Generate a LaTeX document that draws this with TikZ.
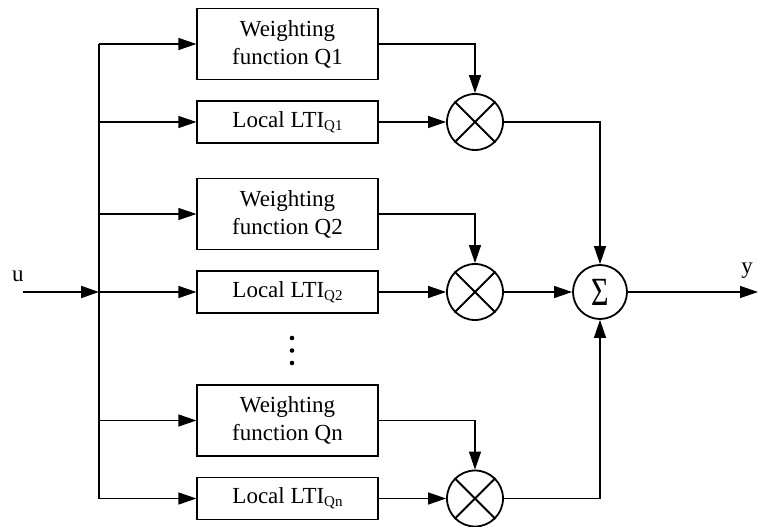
\documentclass[tikz,border=0pt]{standalone}
\usepackage{fontspec}
\setmainfont{Liberation Serif}
\usetikzlibrary{arrows.meta,positioning}
\begin{document}
\begin{tikzpicture}[x=1pt,y=-1pt,
  font=\fontsize{23}{28}\selectfont,
  block/.style={draw,line width=1.2pt,minimum width=181pt,inner sep=0pt,align=center},
  tall/.style={block,minimum height=71pt},
  flat/.style={block,minimum height=42pt},
  mult/.style={draw,circle,line width=1.8pt,minimum size=56pt,inner sep=0pt},
  sumnode/.style={draw,circle,line width=1.8pt,minimum size=54pt,inner sep=0pt},
  wire/.style={line width=1.2pt,-{Triangle[length=18pt,width=12pt]}},
  plain/.style={line width=1.2pt}]
\useasboundingbox (0,0) rectangle (758,527);

% blocks
\newcommand{\ltisub}[1]{Local LTI\raisebox{-3pt}{\fontsize{15}{15}\selectfont #1}}
\node[tall] (w1) at (287.5,44) {Weighting\\function Q1};
\node[flat] (l1) at (287.5,122) {\ltisub{Q1}};
\node[tall] (w2) at (287.5,214) {Weighting\\function Q2};
\node[flat] (l2) at (287.5,292) {\ltisub{Q2}};
\node[tall] (wn) at (287.5,420.5) {Weighting\\function Qn};
\node[flat] (ln) at (287.5,498.5) {\ltisub{Qn}};

% vertical ellipsis
\fill (292,338) circle (2.3pt) (292,350.5) circle (2.3pt) (292,363) circle (2.3pt);

% multipliers
\foreach \n/\yy in {m1/122,m2/292,mn/498.5}{
  \node[mult] (\n) at (475,\yy) {};
  \draw[line width=1.8pt] (\n.north west) -- (\n.south east) (\n.north east) -- (\n.south west);
}

% summation
\node[sumnode] (s) at (600,292) {\fontsize{40}{40}\selectfont\scalebox{0.75}[1]{Σ}};

% input and bus
\coordinate (uin) at (23,292);
\coordinate (bus) at (99,292);
\coordinate (bt) at (99,44);
\coordinate (bb) at (99,498.5);
\draw[line width=2pt,-{Triangle[length=18pt,width=12pt]}] (uin) -- (bus);
\node[anchor=south] (ul) at (18,285) {u};
\draw[plain] (bt) -- (bb);
\foreach \b in {w1,l1,w2,l2,wn,ln}{
  \draw[wire] (bt |- \b.west) -- (\b.west);
}

% weighting outputs into multipliers
\draw[wire] (w1.east) -| (m1.north);
\draw[wire] (w2.east) -| (m2.north);
\draw[wire] (wn.east) -| (mn.north);
% local model outputs into multipliers
\draw[wire] (l1.east) -- (m1.west);
\draw[wire] (l2.east) -- (m2.west);
\draw[wire] (ln.east) -- (mn.west);

% products into the sum
\draw[wire] (m1.east) -| (s.north);
\draw[wire] (m2.east) -- (s.west);
\draw[wire] (mn.east) -| (s.south);

% output
\coordinate (yout) at (758,292);
\draw[wire] (s.east) -- (yout);
\node[anchor=south] (yl) at (747,282) {y};
\end{tikzpicture}
\end{document}
